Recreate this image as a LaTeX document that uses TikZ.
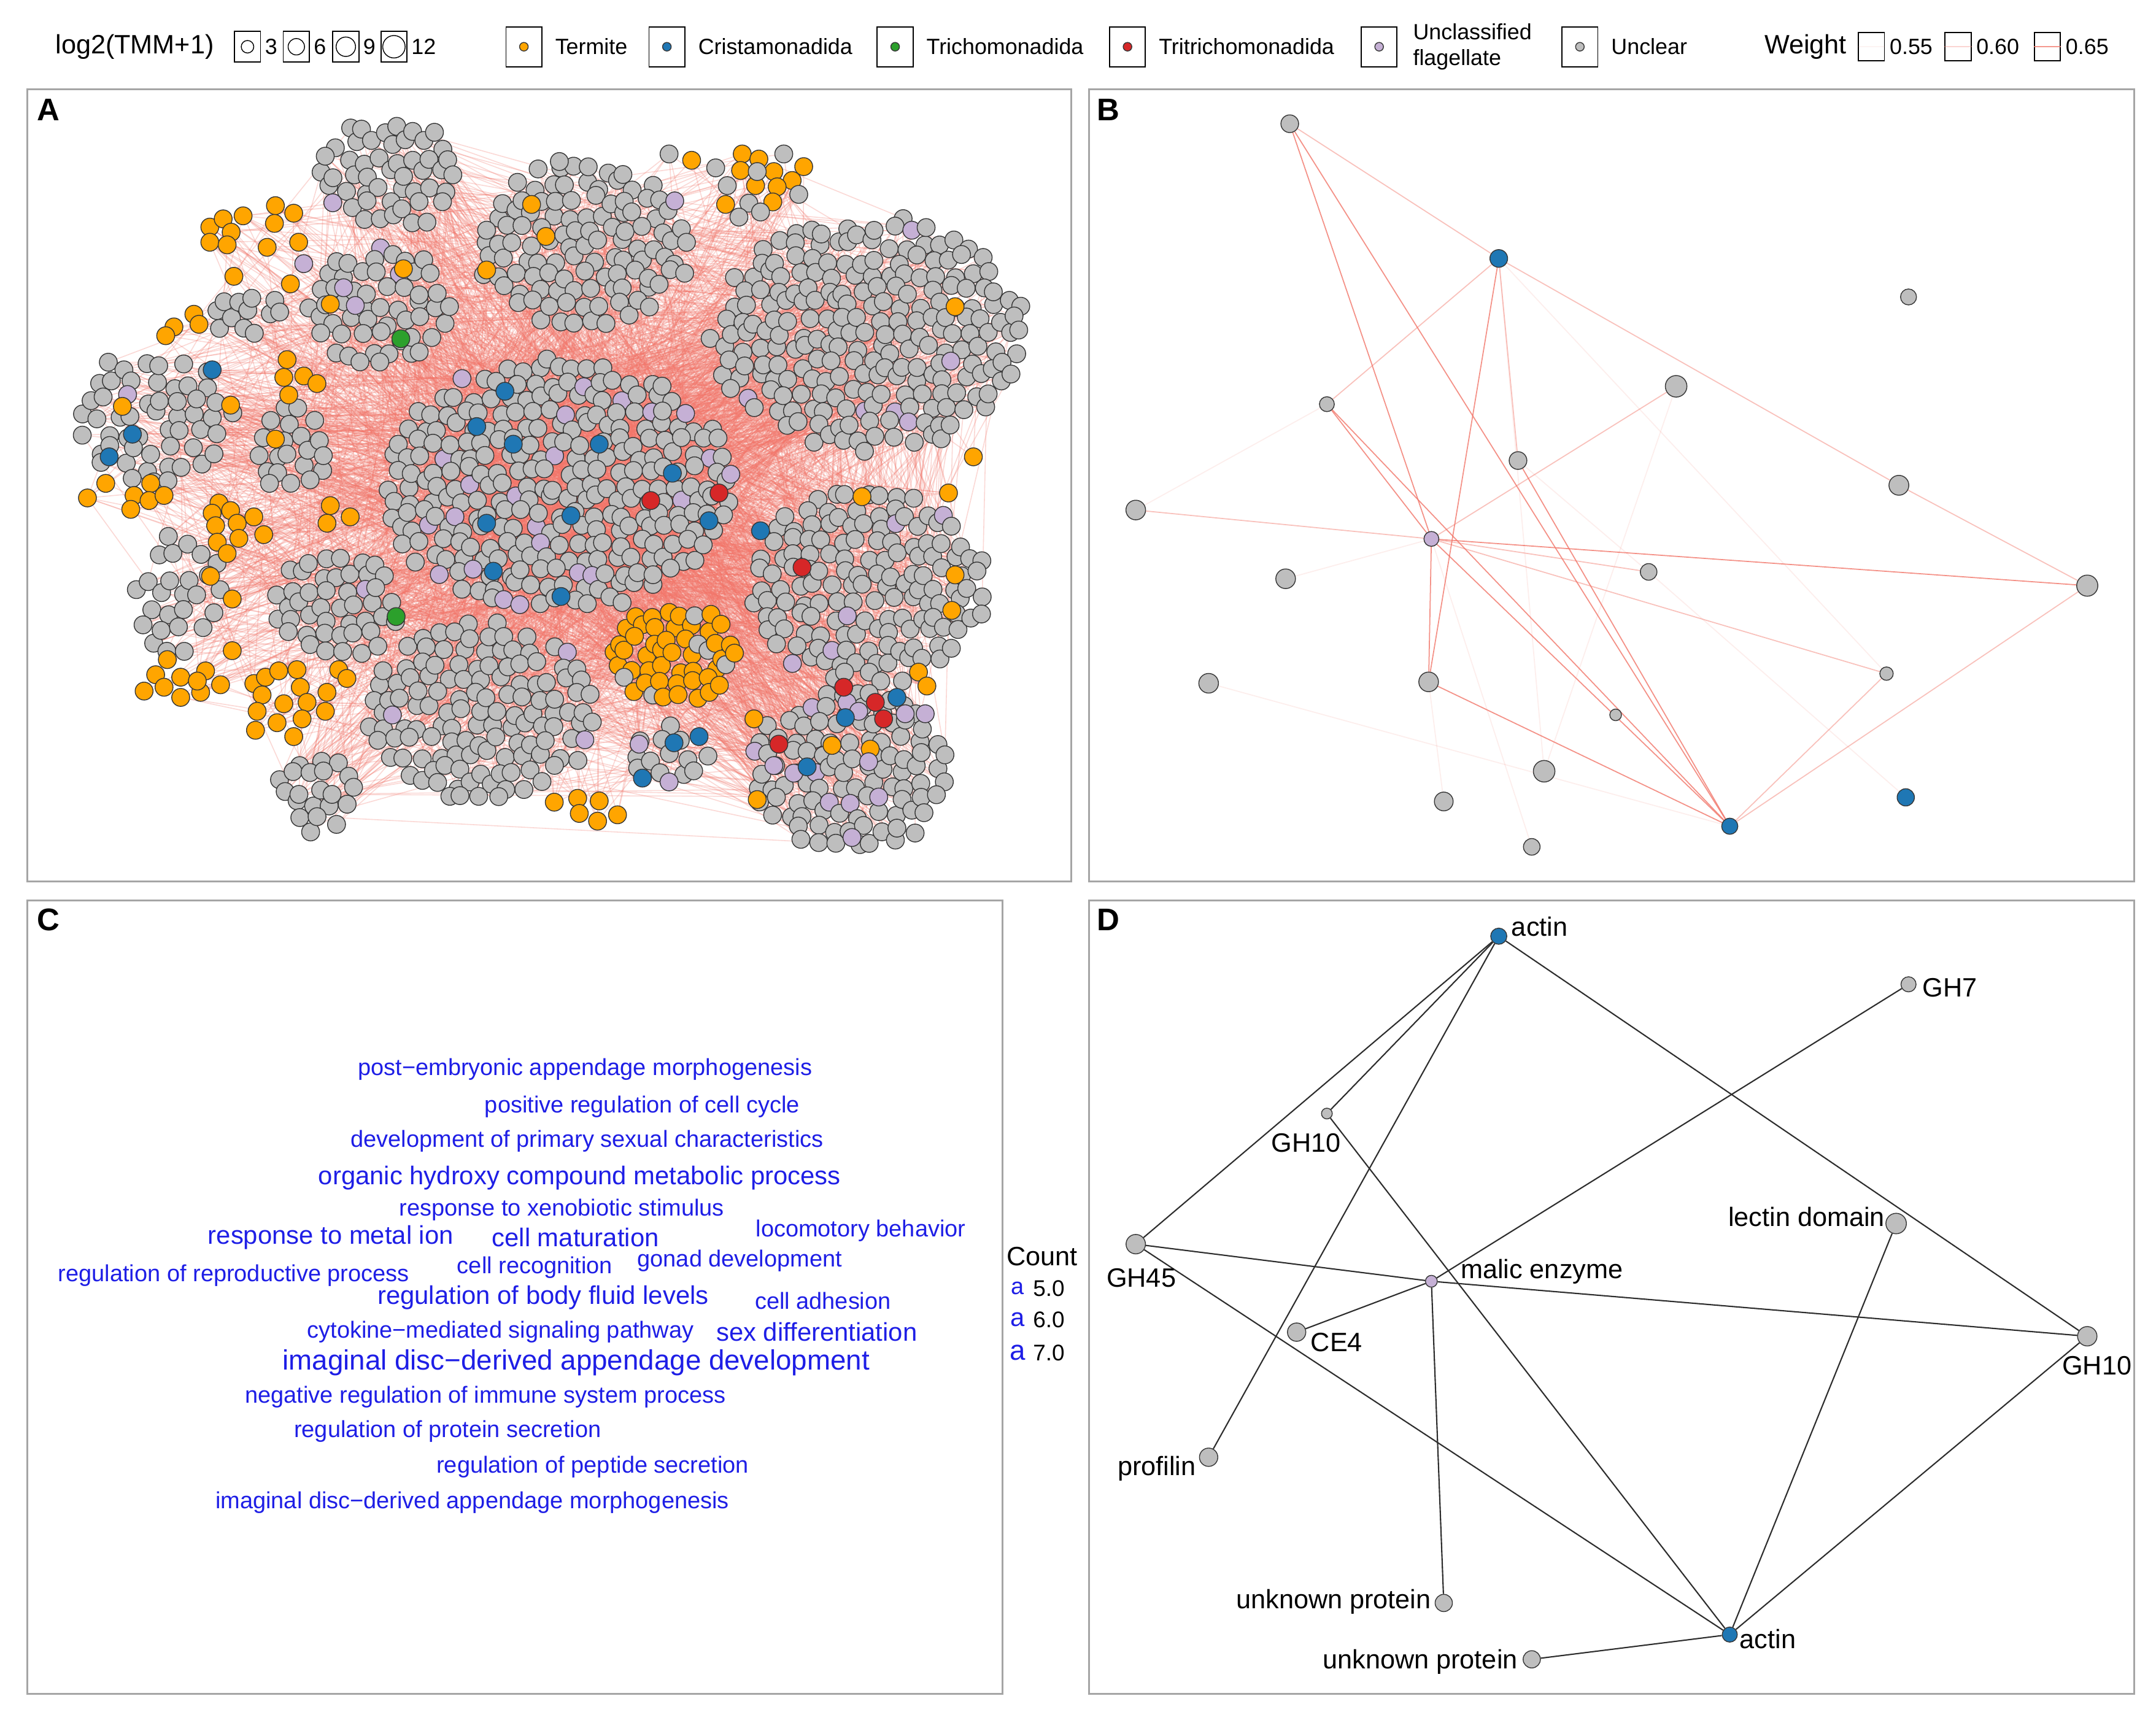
\documentclass[tikz,border=0pt]{standalone}
\usepackage{fontspec}
\setmainfont{Liberation Sans}
\usetikzlibrary{backgrounds}

\definecolor{termite}{RGB}{255,165,0}
\definecolor{cristblue}{RGB}{31,119,180}
\definecolor{trichgreen}{RGB}{44,160,44}
\definecolor{tritred}{RGB}{214,39,40}
\definecolor{flagell}{RGB}{197,176,213}
\definecolor{unclear}{RGB}{190,190,190}
\definecolor{nodeline}{RGB}{55,55,55}
\definecolor{salmonedge}{RGB}{242,118,106}
\definecolor{framegray}{RGB}{165,165,165}
\definecolor{wordblue}{RGB}{30,30,230}
\definecolor{edgegray}{RGB}{45,45,45}

% panel A: every node is stored first as a coordinate pA<n> with its colour
\newcount\nA
\newcommand\addA[3]{%
  \global\advance\nA by 1
  \edef\kA{\the\nA}%
  \coordinate (pA\kA) at (#1,#2);
  \expandafter\xdef\csname colA\kA\endcsname{#3}}
% cx, cy, rx, ry, spacing, colour, percent of other colour, other colour
\newcommand\clusterA[8]{%
  \pgfmathtruncatemacro\imax{#3/#5+1}%
  \pgfmathtruncatemacro\jmax{#4/(0.866*#5)+1}%
  \foreach \i in {-\imax,...,\imax}{
    \foreach \j in {-\jmax,...,\jmax}{
      \pgfmathsetmacro\px{#1+(\i+0.5*mod(\j,2))*#5+0.3*#5*rand}
      \pgfmathsetmacro\py{#2+0.866*\j*#5+0.3*#5*rand}
      \pgfmathtruncatemacro\isin{((\px-#1)/#3)^2+((\py-#2)/#4)^2<1}
      \ifnum\isin=1
        \pgfmathtruncatemacro\pick{random(1,100)}
        \ifnum\pick>#7 \addA{\px}{\py}{#6}\else\addA{\px}{\py}{#8}\fi
      \fi
    }}}

\begin{document}
\begin{tikzpicture}[x=0.022404cm, y=-0.022404cm,
  panelframe/.style={draw=framegray, line width=0.8pt},
  panelletter/.style={font=\fontsize{14.5}{16}\selectfont\bfseries, inner sep=0},
  keytitle/.style={font=\fontsize{12.3}{14}\selectfont, inner sep=0},
  keytext/.style={font=\fontsize{10.2}{12.2}\selectfont, inner sep=0, anchor=west},
  keybox/.style={draw=black, line width=0.5pt, inner sep=0, minimum width=12.1pt, minimum height=14.2pt},
  colbox/.style={draw=black, line width=0.5pt, inner sep=0, minimum width=16.6pt, minimum height=18.5pt},
  netnode/.style={circle, draw=nodeline, line width=0.4pt, inner sep=0},
  nodeA/.style={netnode, minimum size=8.3pt},
  edgeA/.style={draw=salmonedge, line width=0.45pt, opacity=0.28},
  wB/.style={draw=salmonedge, line width=0.5pt},
  edgeD/.style={draw=edgegray, line width=0.6pt},
  lblD/.style={font=\fontsize{12.3}{14}\selectfont, inner sep=0},
  wordS/.style={text=wordblue, inner sep=0, font=\fontsize{10.8}{12}\selectfont},
  wordM/.style={text=wordblue, inner sep=0, font=\fontsize{11.9}{13}\selectfont},
  wordL/.style={text=wordblue, inner sep=0, font=\fontsize{13}{14}\selectfont}]

\begin{scope}[on background layer]
  \fill[white] (0,0) rectangle (1568,1253);
\end{scope}
\useasboundingbox (0,0) rectangle (1568,1253);

% legend
\node[keytitle] (lgsize) at (98,34) {log2(TMM+1)};
\foreach \x/\d/\t [count=\k] in {180/5.8/3, 215.5/7.6/6, 251.5/9/9, 286.5/10.4/12}{
  \node[keybox] (sk\k) at (\x,34) {};
  \node[circle, draw=black, line width=0.4pt, minimum size=\d pt, inner sep=0] (sc\k) at (sk\k) {};
  \node[keytext] (st\k) at ([xshift=1.6pt]sk\k.east) {\t};
}
\foreach \x/\c/\t [count=\k] in {381/termite/Termite, 485/cristblue/Cristamonadida,
    651/trichgreen/Trichomonadida, 820/tritred/Tritrichomonadida, 1149/unclear/Unclear}{
  \node[colbox] (ck\k) at (\x,34) {};
  \node[netnode, fill=\c, minimum size=4pt] (cd\k) at (ck\k) {};
  \node[keytext] (ct\k) at ([xshift=5.8pt]ck\k.east) {\t};
}
\node[colbox] (ckf) at (1003,34) {};
\node[netnode, fill=flagell, minimum size=4pt] (cdf) at (ckf) {};
\node[keytext, align=left] (ctf) at ([xshift=7pt]ckf.east) {Unclassified\\flagellate};
\node[keytitle, anchor=west] (lgw) at (1283,34) {Weight};
\foreach \x/\o/\t [count=\k] in {1361/0.08/0.55, 1424/0.3/0.60, 1489/0.75/0.65}{
  \node[keybox, minimum height=13pt] (wk\k) at (\x,34) {};
  \draw[salmonedge, line width=0.5pt, opacity=\o] (wk\k.west) -- (wk\k.east);
  \node[keytext] (wt\k) at ([xshift=2pt]wk\k.east) {\t};
}

% panel frames
\draw[panelframe] (20,65) rectangle (779,641);
\draw[panelframe] (792,65) rectangle (1552,641);
\draw[panelframe] (20,655) rectangle (729,1232);
\draw[panelframe] (792,655) rectangle (1552,1232);
\node[panelletter] (lA) at (35,80) {A};
\node[panelletter] (lB) at (806,80) {B};
\node[panelletter] (lC) at (35,669) {C};
\node[panelletter] (lD) at (806,669) {D};

% ---------------- A: co-expression network ----------------
\pgfmathsetseed{4242}
\clusterA{283}{127}{50}{42}{12.5}{unclear}{2}{flagell}
\clusterA{276}{222}{55}{46}{13}{unclear}{7}{flagell}
\clusterA{425}{178}{80}{62}{12.5}{unclear}{1}{flagell}
\clusterA{632}{243}{116}{86}{12.5}{unclear}{2}{flagell}
\edef\coreFrom{\the\nA}
\clusterA{405}{353}{130}{92}{12.2}{unclear}{9}{flagell}
\edef\coreTo{\the\nA}
\clusterA{112}{303}{62}{48}{14}{unclear}{4}{flagell}
\clusterA{212}{330}{28}{36}{13}{unclear}{3}{flagell}
\clusterA{180}{228}{26}{18}{13}{unclear}{0}{flagell}
\clusterA{245}{440}{47}{40}{12.5}{unclear}{5}{flagell}
\clusterA{130}{432}{32}{48}{15}{unclear}{0}{flagell}
\clusterA{232}{575}{30}{32}{12.5}{unclear}{3}{flagell}
\clusterA{350}{517}{85}{65}{12.5}{unclear}{3}{flagell}
\clusterA{630}{427}{88}{72}{12.5}{unclear}{5}{flagell}
\clusterA{617}{560}{76}{60}{12.5}{unclear}{5}{flagell}
\clusterA{487}{550}{30}{22}{13}{unclear}{10}{flagell}
\clusterA{490}{476}{46}{39}{11.5}{termite}{14}{unclear}
\foreach \x/\y in {152.6/165.2,162.3/159.2,168.1/168.9,152.6/176.2,165.2/178.1,176.8/157,
    200.3/149.6,213.6/155.1,199.6/162.5,194.3/179.9,217.2/176.2,170.1/201,211.2/206.5,
    240.2/221.2,293.4/195.5,353.9/196.4,386.6/148.7,397/172,141/228.6,126.5/237.8,120.5/244.2,
    144.7/235.9,167.7/294.7,89/295.6,208.8/261.6,206.4/274.5,220.9/273.5,230.5/279,210/287.3,
    200.3/319.4,76.9/351.6,109.6/351.6,63.6/362.2,97.5/360.4,108.4/364.1,119.3/360.4,95.1/370.5,
    159.2/365.9,154.3/373.3,167.7/371.4,156.8/382.4,172.5/380.6,184.6/376,191.8/388.9,158/394.4,
    173.7/391.6,165.2/402.6,153.1/419.2,168.9/435.7,240.2/367.8,237.8/380.6,254.7/376,
    121.7/479.8,113.2/490.8,131.4/492.6,149.5/488,104.8/502.7,119.3/499.9,131.4/507.3,
    145.9/503.6,160.4/498.1,143.5/495.4,168.9/473.3,184.6/497.2,193.1/492.6,202.7/488,216/487.1,
    190.6/505.5,206.4/511.9,218.4/499.9,223.3/510.9,237.8/503.6,236.6/517.4,187/517.4,
    201.5/525.7,219.7/522.9,185.8/531.2,213.6/535.8,246.3/487.1,252.3/493.5,
    503/116.6,539.8/112,551.9/115.7,584.5/121.2,538.6/124,562.8/124.8,576.1/131.3,549.5/135,
    565.2/135.9,527.7/148.7,562/146.9,694.6/223.1,707.9/332.3,626.9/361.3,689.8/358.6,
    694.6/418.2,692.2/444,668/488.9,674.1/499,548.3/522.9,605.1/542.2,632.9/544.9,550.7/581.6,
    420.1/580.7,435.8/582.6,421.3/591.7,434.6/597.3,449.1/592.7,403.1/583.5}
  {\addA{\x}{\y}{termite}}
\foreach \x/\y in {486.6/112,570/112,520.5/122.1,550.7/124.8,528.9/135,580.9/141.4,
    544.6/147.8,537.4/157.9,553.1/154.2,406.8/117.5}
  {\addA{\x}{\y}{unclear}}
\foreach \x/\y in {616/511,624.5/517.4,658.3/519.2,672.9/519.2,562.8/556.9,577.3/562.4,
    631.7/554.1,619.6/609.2,464.8/541.3,486.6/568.8,220.9/191.8,249.9/209.3,258.4/222.2}
  {\addA{\x}{\y}{flagell}}
\foreach \x/\y in {154.3/269,96.3/315.8,79.4/332.3,367.2/284.6,346.7/310.3,373.3/323.1,
    435.8/323.1,489/344.2,353.9/380.6,358.8/415.5,415.2/375.1,515.6/378.8,408/433.9,
    553.1/386.1,652.3/507.3,614.8/522,490.2/540.3,508.4/535.8,467.2/566,587/557.8}
  {\addA{\x}{\y}{cristblue}}
\foreach \x/\y in {473.3/364.1,522.9/358.6,583.3/412.7,613.6/499.9,636.6/510.9,
    642.6/522.9,566.4/541.3}
  {\addA{\x}{\y}{tritred}}
\foreach \x/\y in {291.5/246.4,288.1/448.5}
  {\addA{\x}{\y}{trichgreen}}
\edef\NA{\the\nA}

% edges of A: many hub edges from the central module, the rest at random
\pgfmathsetseed{77}
\foreach \e in {1,...,1800}{
  \pgfmathtruncatemacro\u{random(\coreFrom+1,\coreTo)}
  \pgfmathtruncatemacro\v{random(1,\NA)}
  \draw[edgeA] (pA\u) -- (pA\v);
}
\foreach \e in {1,...,2400}{
  \pgfmathtruncatemacro\u{random(1,\NA)}
  \pgfmathtruncatemacro\v{random(1,\NA)}
  \draw[edgeA] (pA\u) -- (pA\v);
}
% nodes of A
\foreach \k in {1,...,\NA}{
  \edef\cA{\csname colA\k\endcsname}
  \node[nodeA, fill=\cA] (nA\k) at (pA\k) {};
}

% ---------------- B: sub-network ----------------
\node[netnode, fill=unclear, minimum size=8.2pt] (b1) at (938,90) {};
\node[netnode, fill=cristblue, minimum size=8.2pt] (b2) at (1090,188) {};
\node[netnode, fill=unclear, minimum size=7.4pt] (b3) at (1388,216) {};
\node[netnode, fill=unclear, minimum size=10pt] (b4) at (1219,281) {};
\node[netnode, fill=unclear, minimum size=6.9pt] (b5) at (965,294) {};
\node[netnode, fill=unclear, minimum size=8.2pt] (b6) at (1104,335) {};
\node[netnode, fill=unclear, minimum size=9.2pt] (b7) at (1381,353) {};
\node[netnode, fill=unclear, minimum size=9.1pt] (b8) at (826,371) {};
\node[netnode, fill=flagell, minimum size=6.9pt] (b9) at (1041,392) {};
\node[netnode, fill=unclear, minimum size=9.1pt] (b10) at (935,421) {};
\node[netnode, fill=unclear, minimum size=7.7pt] (b11) at (1199,416) {};
\node[netnode, fill=unclear, minimum size=9.8pt] (b12) at (1518,426) {};
\node[netnode, fill=unclear, minimum size=9.1pt] (b13) at (879,497) {};
\node[netnode, fill=unclear, minimum size=9.1pt] (b14) at (1039,496) {};
\node[netnode, fill=unclear, minimum size=6.2pt] (b15) at (1372,490) {};
\node[netnode, fill=unclear, minimum size=5.4pt] (b16) at (1175,520) {};
\node[netnode, fill=unclear, minimum size=10pt] (b17) at (1123,561) {};
\node[netnode, fill=unclear, minimum size=8.7pt] (b18) at (1050,583) {};
\node[netnode, fill=cristblue, minimum size=8pt] (b19) at (1386,580) {};
\node[netnode, fill=cristblue, minimum size=7.5pt] (b20) at (1258,601) {};
\node[netnode, fill=unclear, minimum size=7.7pt] (b21) at (1114,616) {};
\begin{scope}[on background layer]
  \foreach \s/\t in {b1/b9, b1/b20, b5/b9, b5/b20, b9/b14, b9/b12, b14/b20, b6/b20, b2/b14, b9/b20}
    \draw[wB, opacity=0.8] (\s) -- (\t);
  \foreach \s/\t in {b1/b2, b2/b5, b2/b6, b2/b7, b7/b12, b12/b20, b15/b20, b8/b9, b4/b9, b9/b11, b9/b15}
    \draw[wB, opacity=0.45] (\s) -- (\t);
  \foreach \s/\t in {b2/b15, b9/b10, b9/b21, b11/b19, b6/b11, b5/b8, b13/b20, b14/b18, b4/b17, b2/b17}
    \draw[wB, opacity=0.12] (\s) -- (\t);
\end{scope}

% ---------------- C: enriched GO terms ----------------
\node[wordS] (w1) at (425.5,778) {post−embryonic appendage morphogenesis};
\node[wordS] (w2) at (467,805) {positive regulation of cell cycle};
\node[wordS] (w3) at (427,830) {development of primary sexual characteristics};
\node[wordM] (w4) at (421.5,857) {organic hydroxy compound metabolic process};
\node[wordS] (w5) at (408.5,880) {response to xenobiotic stimulus};
\node[wordM] (w6) at (240.5,900) {response to metal ion};
\node[wordM] (w7) at (418.5,900) {cell maturation};
\node[wordS] (w8) at (626,895) {locomotory behavior};
\node[wordS] (w9) at (170,928) {regulation of reproductive process};
\node[wordS] (w10) at (389,922) {cell recognition};
\node[wordS] (w11) at (538,917) {gonad development};
\node[wordM] (w12) at (395,944) {regulation of body fluid levels};
\node[wordS] (w13) at (598.5,946) {cell adhesion};
\node[wordS] (w14) at (364,969) {cytokine−mediated signaling pathway};
\node[wordM] (w15) at (594,969) {sex differentiation};
\node[wordL] (w16) at (419,991) {imaginal disc−derived appendage development};
\node[wordS] (w17) at (353,1016) {negative regulation of immune system process};
\node[wordS] (w18) at (325.5,1041) {regulation of protein secretion};
\node[wordS] (w19) at (431,1067) {regulation of peptide secretion};
\node[wordS] (w20) at (343.5,1093) {imaginal disc−derived appendage morphogenesis};
\node[keytitle] (cnt) at (758,914) {Count};
\foreach \y/\st/\t [count=\k] in {937/wordS/5.0, 960/wordM/6.0, 984/wordL/7.0}{
  \node[\st] (ca\k) at (740,\y) {a};
  \node[keytext, font=\fontsize{10.5}{12}\selectfont] (cv\k) at (751,\y) {\t};
}

% ---------------- D: annotated sub-network ----------------
\node[netnode, fill=cristblue, minimum size=7.5pt] (actinT) at (1090,681) {};
\node[netnode, fill=unclear, minimum size=7pt] (gh7) at (1388,716) {};
\node[netnode, fill=unclear, minimum size=5pt] (gh10a) at (965,810) {};
\node[netnode, fill=unclear, minimum size=9.5pt] (lectin) at (1379,890) {};
\node[netnode, fill=unclear, minimum size=9pt] (gh45) at (826,905) {};
\node[netnode, fill=flagell, minimum size=5.5pt] (malic) at (1041,932) {};
\node[netnode, fill=unclear, minimum size=8.5pt] (ce4) at (943,969) {};
\node[netnode, fill=unclear, minimum size=9pt] (gh10b) at (1518,972) {};
\node[netnode, fill=unclear, minimum size=8.5pt] (profilin) at (879,1060) {};
\node[netnode, fill=unclear, minimum size=8pt] (unkA) at (1050,1166) {};
\node[netnode, fill=cristblue, minimum size=7pt] (actinB) at (1258,1189) {};
\node[netnode, fill=unclear, minimum size=8pt] (unkB) at (1114,1207) {};
\node[lblD, anchor=base west] (lactinT) at (1099,681) {actin};
\node[lblD, anchor=base west] (lgh7) at (1398,725) {GH7};
\node[lblD, anchor=base] (lgh10a) at (950,838) {GH10};
\node[lblD, anchor=base east] (llectin) at (1371,892) {lectin domain};
\node[lblD, anchor=base] (lgh45) at (830,936) {GH45};
\node[lblD, anchor=base west] (lmalic) at (1062,930) {malic enzyme};
\node[lblD, anchor=base west] (lce4) at (953,983) {CE4};
\node[lblD, anchor=base] (lgh10b) at (1525,1000) {GH10};
\node[lblD, anchor=base east] (lprofilin) at (870,1073) {profilin};
\node[lblD, anchor=base east] (lunkA) at (1041,1170) {unknown protein};
\node[lblD, anchor=base west] (lactinB) at (1265,1199) {actin};
\node[lblD, anchor=base east] (lunkB) at (1104,1214) {unknown protein};
\begin{scope}[on background layer]
  \foreach \s/\t in {actinT/gh45, actinT/gh10a, actinT/profilin, actinT/gh10b,
      gh7/malic, malic/ce4, gh45/malic, malic/gh10b, gh45/actinB, gh10a/actinB,
      malic/unkA, lectin/actinB, gh10b/actinB, unkB/actinB}
    \draw[edgeD] (\s) -- (\t);
\end{scope}
\end{tikzpicture}
\end{document}
